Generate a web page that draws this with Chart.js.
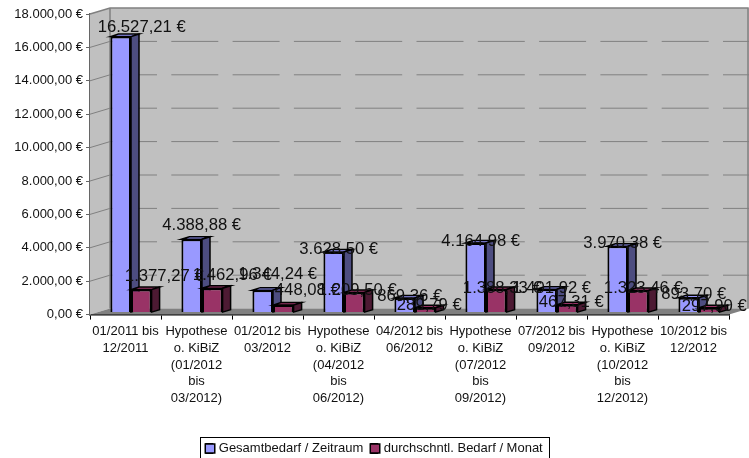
<!DOCTYPE html>
<html>
<head>
<meta charset="utf-8">
<script src="https://cdn.jsdelivr.net/npm/chart.js@4"></script>
<style>
  html, body { margin: 0; padding: 0; background: #fff; }
  canvas { display: block; }
</style>
</head>
<body>
<canvas id="chart" width="749" height="458"></canvas>
<script>
const categories = [
  ['01/2011 bis', '12/2011'],
  ['Hypothese', 'o. KiBiZ', '(01/2012', 'bis', '03/2012)'],
  ['01/2012 bis', '03/2012'],
  ['Hypothese', 'o. KiBiZ', '(04/2012', 'bis', '06/2012)'],
  ['04/2012 bis', '06/2012'],
  ['Hypothese', 'o. KiBiZ', '(07/2012', 'bis', '09/2012)'],
  ['07/2012 bis', '09/2012'],
  ['Hypothese', 'o. KiBiZ', '(10/2012', 'bis', '12/2012)'],
  ['10/2012 bis', '12/2012']
];
const gesamtbedarf = [16527.21, 4388.88, 1344.24, 3628.50, 869.36, 4164.98, 1401.92, 3970.38, 893.70];
const monatsbedarf = [1377.27, 1462.96, 448.08, 1209.50, 289.79, 1388.33, 467.31, 1323.46, 297.90];

// label nudges from the bar top centre, the original placed them unevenly
const nudgeX = [
  [21, 10, 15, 5, 5, 5, 5, 5, 5],
  [23, 20, 24, 3, 4, 6, 4, 5, 5]
];
const nudgeY = [
  [-9, -14, -16, -3, -2, -2, -1, -3, -3],
  [-13, -13, -15, -2, -2, -1, -2, -2, -1]
];

const DEPTH_X = 20, DEPTH_Y = 6;      // wall offset of the fake 3d box
const BAR_DX = 5.5, BAR_DY = -2;      // bars stand a bit behind the front edge
const SIDE_X = 8, SIDE_Y = 2.5;       // depth of a bar
const sideColors = ['#4d4d80', '#4d1a33'];

function euro(v) {
  return v.toLocaleString('de-DE', { minimumFractionDigits: 2, maximumFractionDigits: 2 }) + ' €';
}

function poly(ctx, pts, fill, stroke, lw) {
  ctx.beginPath();
  pts.forEach((p, i) => i ? ctx.lineTo(p[0], p[1]) : ctx.moveTo(p[0], p[1]));
  ctx.closePath();
  if (fill) { ctx.fillStyle = fill; ctx.fill(); }
  if (stroke) { ctx.strokeStyle = stroke; ctx.lineWidth = lw; ctx.stroke(); }
}

const box3d = {
  id: 'box3d',
  beforeDatasetsDraw(chart) {
    const { ctx, chartArea: a, scales: { y } } = chart;
    const dx = DEPTH_X, dy = DEPTH_Y;
    ctx.save();
    // back wall
    poly(ctx, [[a.left + dx, a.top - dy], [a.right + dx, a.top - dy], [a.right + dx, a.bottom - dy], [a.left + dx, a.bottom - dy]], '#c0c0c0');
    // left wall
    poly(ctx, [[a.left, a.top], [a.left + dx, a.top - dy], [a.left + dx, a.bottom - dy], [a.left, a.bottom]], '#c0c0c0');
    // floor
    poly(ctx, [[a.left, a.bottom], [a.left + dx, a.bottom - dy], [a.right + dx, a.bottom - dy], [a.right, a.bottom]], '#808080');
    // wall edges
    ctx.strokeStyle = '#808080';
    ctx.lineWidth = 1.5;
    ctx.beginPath();
    ctx.moveTo(a.left, a.top);
    ctx.lineTo(a.left + dx, a.top - dy);
    ctx.lineTo(a.right + dx - 1, a.top - dy);
    ctx.lineTo(a.right + dx - 1, a.bottom - dy);
    ctx.moveTo(a.left + dx, a.top - dy);
    ctx.lineTo(a.left + dx, a.bottom - dy);
    ctx.stroke();
    // grid lines
    ctx.lineWidth = 1;
    y.ticks.forEach((t, i) => {
      if (i === 0 || t.value === y.max) return;
      const py = y.getPixelForValue(t.value);
      ctx.strokeStyle = '#808080';
      ctx.setLineDash([]);
      ctx.beginPath();
      ctx.moveTo(a.left, py);
      ctx.lineTo(a.left + dx, py - dy);
      ctx.stroke();
      ctx.setLineDash([47, 14.3]);
      ctx.beginPath();
      ctx.moveTo(a.left + dx, py - dy);
      ctx.lineTo(a.right + dx, py - dy);
      ctx.stroke();
    });
    ctx.restore();
  },
  // chart.js paints the last dataset first, here the red bars have to cover the blue sides
  beforeDatasetDraw() {
    return false;
  },
  afterDatasetsDraw(chart) {
    const ctx = chart.ctx;
    chart.data.datasets.forEach((ds, d) => {
      const meta = chart.getDatasetMeta(d);
      ctx.save();
      ctx.translate(BAR_DX, BAR_DY);
      meta.controller.draw();
      meta.data.forEach(bar => {
        const l = bar.x - bar.width / 2, r = bar.x + bar.width / 2;
        const t = bar.y, b = bar.base;
        const sx = SIDE_X, sy = SIDE_Y;
        poly(ctx, [[l, t], [l + sx, t - sy], [r + sx, t - sy], [r, t]], ds.backgroundColor, '#000', 1.5);
        poly(ctx, [[r, t], [r + sx, t - sy], [r + sx, b - sy], [r, b]], sideColors[d], '#000', 1.5);
      });
      ctx.restore();
    });

    ctx.save();
    ctx.font = '16.7px "Liberation Sans"';
    ctx.fillStyle = '#111';
    ctx.textAlign = 'center';
    ctx.textBaseline = 'middle';
    chart.data.datasets.forEach((ds, d) => {
      chart.getDatasetMeta(d).data.forEach((bar, i) => {
        ctx.fillText(euro(ds.data[i]), bar.x + BAR_DX + nudgeX[d][i], bar.y + BAR_DY + nudgeY[d][i]);
      });
    });
    ctx.restore();
  },
  afterDraw(chart) {
    const ctx = chart.ctx;
    ctx.save();
    // legend frame and the wider swatches, chart.js ties text gap to box width
    ctx.strokeStyle = '#000';
    ctx.lineWidth = 1;
    ctx.strokeRect(200.5, 437.5, 349, 22);
    chart.legend.legendHitBoxes.forEach((h, i) => {
      ctx.fillStyle = chart.data.datasets[i].backgroundColor;
      ctx.lineWidth = 1.5;
      ctx.fillRect(h.left - 1, h.top + (h.height - 9) / 2, 9.5, 9);
      ctx.strokeRect(h.left - 1, h.top + (h.height - 9) / 2, 9.5, 9);
    });
    ctx.restore();
  }
};

new Chart(document.getElementById('chart'), {
  type: 'bar',
  data: {
    labels: categories,
    datasets: [
      { label: 'Gesamtbedarf / Zeitraum', data: gesamtbedarf, backgroundColor: '#9999ff', borderColor: '#000', borderWidth: 2 },
      { label: 'durchschntl. Bedarf / Monat', data: monatsbedarf, backgroundColor: '#993366', borderColor: '#000', borderWidth: 2 }
    ]
  },
  options: {
    responsive: false,
    animation: false,
    layout: { padding: { left: 0, right: 0, top: 14, bottom: -7 } },
    datasets: { bar: { categoryPercentage: 0.58, barPercentage: 1 } },
    plugins: {
      tooltip: { enabled: false },
      legend: {
        position: 'bottom',
        labels: {
          color: '#111',
          font: { family: '"Liberation Sans"', size: 13 },
          boxWidth: 6, boxHeight: 9, padding: 8
        }
      }
    },
    scales: {
      x: {
        afterFit(s) { s.height = 119.4; },
        grid: { drawOnChartArea: false, color: '#000', tickLength: 5 },
        border: { color: '#000', width: 1.5 },
        ticks: {
          color: '#111', autoSkip: false, maxRotation: 0, minRotation: 0, padding: 4,
          font: { family: '"Liberation Sans"', size: 13, lineHeight: 1.28 }
        }
      },
      y: {
        min: 0,
        max: 18000,
        afterFit(s) { s.width = 90; },
        grid: { drawOnChartArea: false, color: '#666', tickLength: 4 },
        border: { color: '#666', width: 2 },
        ticks: {
          stepSize: 2000, padding: 3, color: '#111',
          font: { family: '"Liberation Sans"', size: 13 },
          callback: v => euro(v)
        }
      },
      // empty axis, only keeps room for the wall depth on the right
      spacer: {
        position: 'right',
        afterFit(s) { s.width = 20; },
        grid: { display: false },
        border: { display: false },
        ticks: { display: false }
      }
    }
  },
  plugins: [box3d]
});
</script>
</body>
</html>
